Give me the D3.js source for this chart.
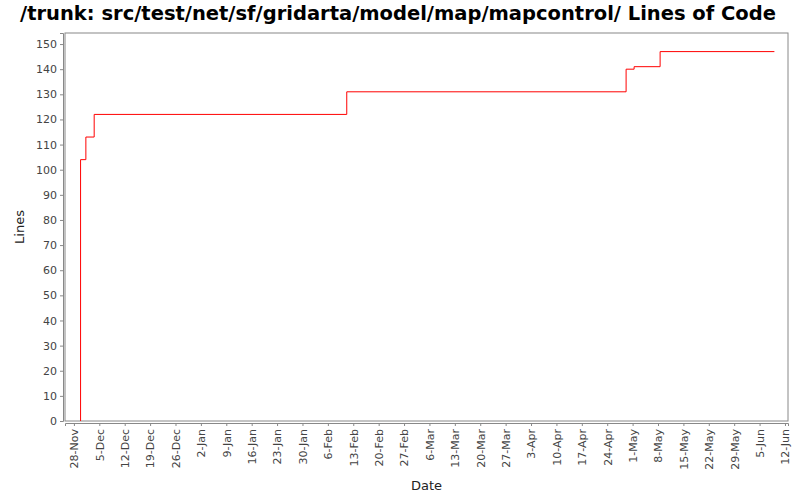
<!DOCTYPE html>
<html>
<head>
<meta charset="utf-8">
<script src="https://cdn.jsdelivr.net/npm/d3@7"></script>
<style>
  body { margin: 0; background: #fff; }
  text { font-family: "DejaVu Sans", sans-serif; }
</style>
</head>
<body>
<div id="chart"></div>
<script>
// step points: date (with hour) and line count
const stepDates = [
  "2006-11-29T20:00", "2006-11-29T20:00", "2006-12-01T07:00", "2006-12-03T14:00",
  "2007-02-11T05:00", "2007-04-29T05:00", "2007-05-01T10:00", "2007-05-08T14:00",
  "2007-06-09T02:00"
];
const stepValues = [0, 104, 113, 122, 131, 140, 141, 147, 147];
const yTicks = d3.range(0, 151, 10);
const firstTick = "2006-11-28T00:00";
const weekCount = 29;

const parse = d3.timeParse("%Y-%m-%dT%H:%M");
const data = stepDates.map((d, i) => ({ date: parse(d), value: stepValues[i] }));

const W = 800, H = 500;
const margin = { top: 33, right: 12, bottom: 79, left: 65 };
const width = W - margin.left - margin.right,
  height = H - margin.top - margin.bottom;

const svg = d3.select("#chart").append("svg")
  .attr("width", W).attr("height", H);

svg.append("text")
  .attr("x", W / 2 - 2).attr("y", 20)
  .attr("text-anchor", "middle")
  .style("font-size", "19.5px").style("font-weight", "bold")
  .text("/trunk: src/test/net/sf/gridarta/model/map/mapcontrol/ Lines of Code");

const g = svg.append("g").attr("transform", `translate(${margin.left},${margin.top})`);

const x = d3.scaleTime()
  .domain([parse("2006-11-25T13:00"), parse("2007-06-12T20:00")])
  .range([0, width]);
const y = d3.scaleLinear().domain([0, 154.4]).range([height, 0]);

g.append("rect").attr("width", width).attr("height", height)
  .attr("fill", "#fff").attr("stroke", "#888");

// Y axis
const ya = g.append("g").attr("transform", "translate(-2,0)")
  .call(d3.axisLeft(y).tickValues(yTicks).tickSize(3).tickPadding(3));
ya.select(".domain").attr("stroke", "#888");
ya.selectAll(".tick line").attr("stroke", "#888");
ya.selectAll("text").style("font-size", "11px").attr("fill", "#444");

// X axis, weekly ticks
const xTicks = d3.range(weekCount).map(i => d3.timeDay.offset(parse(firstTick), i * 7));
const xa = g.append("g").attr("transform", `translate(0,${height + 2})`)
  .call(d3.axisBottom(x).tickValues(xTicks).tickSize(3).tickFormat(d3.timeFormat("%-d-%b")));
xa.select(".domain").attr("stroke", "#888");
xa.selectAll(".tick line").attr("stroke", "#888");
xa.selectAll("text")
  .style("font-size", "11px").attr("fill", "#444")
  .attr("text-anchor", "end")
  .attr("transform", "rotate(-90)")
  .attr("x", -6).attr("y", 0).attr("dy", "0.35em");

svg.append("text")
  .attr("transform", `translate(24,${margin.top + height / 2}) rotate(-90)`)
  .attr("text-anchor", "middle").style("font-size", "13px").attr("fill", "#222")
  .text("Lines");
svg.append("text")
  .attr("x", margin.left + width / 2).attr("y", 490)
  .attr("text-anchor", "middle").style("font-size", "13px").attr("fill", "#222")
  .text("Date");

const line = d3.line().curve(d3.curveStepAfter)
  .x(d => x(d.date)).y(d => y(d.value));
g.append("path").datum(data)
  .attr("fill", "none").attr("stroke", "red").attr("stroke-width", 1)
  .attr("d", line);
</script>
</body>
</html>
